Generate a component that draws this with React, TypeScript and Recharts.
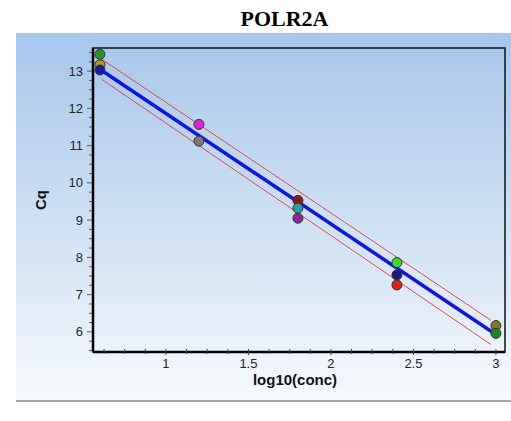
import React from "react";
import {
    ComposedChart,
    Label,
    ReferenceArea,
    ReferenceLine,
    Scatter,
    XAxis,
    YAxis,
    Cell,
} from "recharts";

const logConc = [0.6, 0.6, 0.6, 1.2, 1.2, 1.8, 1.8, 1.8, 2.4, 2.4, 2.4, 3.0, 3.0];
const cqValues = [13.45, 13.17, 13.03, 11.57, 11.12, 9.53, 9.32, 9.05, 7.86, 7.53, 7.26, 6.17, 5.96];
const wellColors = [
    "#2f8f2f",
    "#a89a1e",
    "#1c1ca0",
    "#e020e0",
    "#7a7a7a",
    "#8b1a1a",
    "#2aa0a0",
    "#882a9a",
    "#33dd33",
    "#1a1a80",
    "#e02020",
    "#7a7a2a",
    "#238823",
];

// regression line and its confidence band (end points)
const fitLine = [
    { x: 0.6, y: 13.05 },
    { x: 3.0, y: 5.93 },
];
const upperBand = [
    { x: 0.61, y: 13.32 },
    { x: 2.97, y: 6.31 },
];
const lowerBand = [
    { x: 0.61, y: 12.78 },
    { x: 2.97, y: 5.66 },
];

const xDomain = [0.558, 3.055];
const yDomain = [5.46, 13.62];
const xTicks = [
    0.625, 0.75, 0.875, 1, 1.125, 1.25, 1.375, 1.5, 1.625, 1.75, 1.875, 2, 2.125, 2.25,
    2.375, 2.5, 2.625, 2.75, 2.875, 3,
];
const xLabelTicks = [1, 1.5, 2, 2.5, 3];
const yTicks = [
    5.5, 5.75, 6, 6.25, 6.5, 6.75, 7, 7.25, 7.5, 7.75, 8, 8.25, 8.5, 8.75, 9, 9.25, 9.5,
    9.75, 10, 10.25, 10.5, 10.75, 11, 11.25, 11.5, 11.75, 12, 12.25, 12.5, 12.75, 13, 13.25,
    13.5,
];
const yLabelTicks = [6, 7, 8, 9, 10, 11, 12, 13];

const points = logConc.map((x, i) => ({ x, y: cqValues[i] }));

function XTick(props: any) {
    const { x, y, payload } = props;
    const major = xLabelTicks.includes(payload.value);
    return (
        <g>
            <line x1={x} y1={y - 3} x2={x} y2={y + (major ? 3 : 2)} stroke="#444" strokeWidth={1} />
            {major && (
                <text x={x} y={y + 16} textAnchor="middle" fontSize={13} fill="#222">
                    {payload.value}
                </text>
            )}
        </g>
    );
}

function YTick(props: any) {
    const { x, y, payload } = props;
    const major = yLabelTicks.includes(payload.value);
    return (
        <g>
            <line x1={x - (major ? 6 : 4)} y1={y} x2={x - 1} y2={y} stroke="#555" strokeWidth={1} />
            {major && (
                <text x={x - 10} y={y + 4.5} textAnchor="end" fontSize={13} fill="#222">
                    {payload.value}
                </text>
            )}
        </g>
    );
}

function Dot(props: any) {
    const { cx, cy, fill } = props;
    return <circle cx={cx} cy={cy} r={5} fill={fill} stroke="#333" strokeWidth={1} />;
}

export default function App() {
    return (
        <div
            style={{
                position: "absolute",
                left: 0,
                top: 0,
                width: 511,
                height: 421,
                background: "#fff",
                fontFamily: "'Liberation Sans', Arial, sans-serif",
            }}
        >
            <div
                style={{
                    position: "absolute",
                    left: 16,
                    top: 33,
                    width: 495,
                    height: 367,
                    background: "linear-gradient(to bottom, #a6c6ec 0%, #c9ddf3 45%, #f6f9fc 100%)",
                    borderBottom: "2px solid #a8a8a8",
                }}
            />
            <div
                style={{
                    position: "absolute",
                    left: 0,
                    top: 6,
                    width: 569,
                    textAlign: "center",
                    fontFamily: "'Liberation Serif', 'Times New Roman', serif",
                    fontWeight: "bold",
                    fontSize: 22,
                    color: "#000",
                }}
            >
                POLR2A
            </div>
            <div style={{ position: "absolute", left: 0, top: 0 }}>
                <ComposedChart
                    width={511}
                    height={421}
                    margin={{ top: 48, right: 6, bottom: 0, left: 0 }}
                    data={points}
                >
                    <XAxis
                        type="number"
                        dataKey="x"
                        domain={xDomain}
                        ticks={xTicks}
                        interval={0}
                        allowDataOverflow
                        height={69}
                        tickSize={0}
                        tickMargin={0}
                        tickLine={false}
                        tick={<XTick />}
                        axisLine={{ stroke: "#000", strokeWidth: 2.5 }}
                    >
                        <Label
                            content={(p: any) => {
                                const vb = p.viewBox;
                                return (
                                    <text
                                        x={vb.x + vb.width / 2 - 4}
                                        y={vb.y + 33}
                                        textAnchor="middle"
                                        fontSize={15}
                                        fontWeight="bold"
                                        fill="#111"
                                    >
                                        log10(conc)
                                    </text>
                                );
                            }}
                        />
                    </XAxis>
                    <YAxis
                        type="number"
                        dataKey="y"
                        domain={yDomain}
                        ticks={yTicks}
                        interval={0}
                        allowDataOverflow
                        width={93}
                        tickSize={0}
                        tickMargin={0}
                        tickLine={false}
                        tick={<YTick />}
                        axisLine={{ stroke: "#000", strokeWidth: 2.5 }}
                    >
                        <Label
                            content={(p: any) => {
                                const vb = p.viewBox;
                                const cx = vb.x + 46;
                                const cy = vb.y + vb.height / 2;
                                return (
                                    <text
                                        x={cx}
                                        y={cy}
                                        transform={`rotate(-90 ${cx} ${cy})`}
                                        textAnchor="middle"
                                        fontSize={15}
                                        fontWeight="bold"
                                        fill="#111"
                                    >
                                        Cq
                                    </text>
                                );
                            }}
                        />
                    </YAxis>
                    <ReferenceArea
                        x1={xDomain[0]}
                        x2={xDomain[1]}
                        y1={yDomain[0]}
                        y2={yDomain[1]}
                        fill="none"
                        stroke="#111"
                        strokeWidth={1.5}
                    />
                    <ReferenceLine
                        segment={upperBand}
                        stroke="#e04848"
                        strokeWidth={1}
                    />
                    <ReferenceLine
                        segment={lowerBand}
                        stroke="#e04848"
                        strokeWidth={1}
                    />
                    <ReferenceLine
                        segment={fitLine}
                        stroke="#1414dc"
                        strokeWidth={3.5}
                    />
                    <Scatter dataKey="y" isAnimationActive={false} shape={<Dot />}>
                        {points.map((p, i) => (
                            <Cell key={i} fill={wellColors[i]} />
                        ))}
                    </Scatter>
                </ComposedChart>
            </div>
        </div>
    );
}
